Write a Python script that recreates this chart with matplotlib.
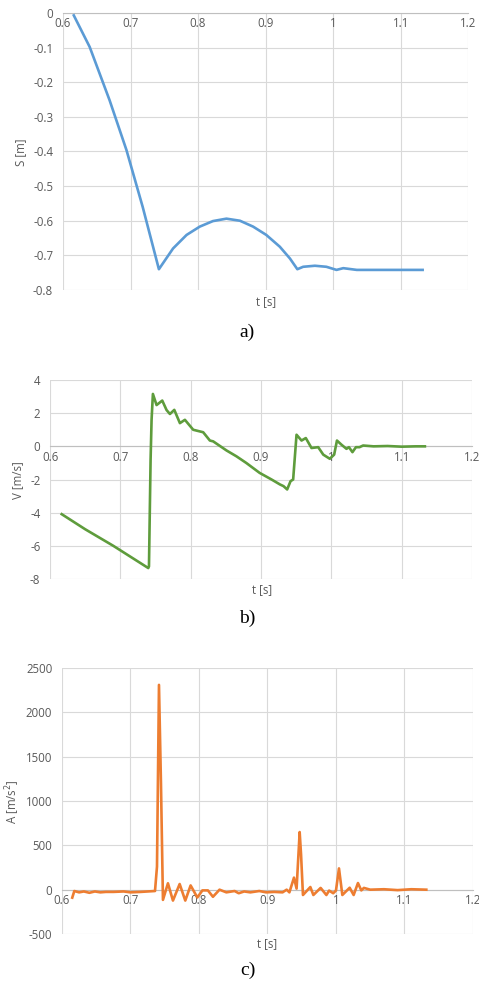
import matplotlib
matplotlib.use('Agg')
import matplotlib.pyplot as plt

# displacement S [m]
t_s = [0.616, 0.6395, 0.669, 0.694, 0.718, 0.742, 0.763, 0.783, 0.8025, 0.822,
       0.842, 0.862, 0.8815, 0.901, 0.921, 0.936, 0.947, 0.9556, 0.973, 0.990,
       1.005, 1.015, 1.035, 1.08, 1.1325]
s_vals = [-0.007, -0.098, -0.252, -0.396, -0.56, -0.740, -0.680, -0.641, -0.617, -0.601,
          -0.594, -0.600, -0.617, -0.641, -0.675, -0.709, -0.740, -0.733, -0.730, -0.733,
          -0.742, -0.737, -0.742, -0.742, -0.742]

# velocity V [m/s]
t_v = [0.6166, 0.65, 0.69, 0.7397, 0.7407, 0.743, 0.7444, 0.7463, 0.7515, 0.7596,
       0.7657, 0.7705, 0.7767, 0.7847, 0.7918, 0.8036, 0.8178, 0.8273, 0.832, 0.851,
       0.865, 0.879, 0.898, 0.915, 0.927, 0.932, 0.9372, 0.942, 0.9457, 0.9505,
       0.9576, 0.9637, 0.9718, 0.9813, 0.9885, 0.9978, 1.004, 1.008, 1.0144, 1.0215,
       1.025, 1.030, 1.035, 1.040, 1.0452, 1.06, 1.08, 1.10, 1.12, 1.133]
v_vals = [-4.09, -5.0, -6.0, -7.34, -7.24, -0.82, 1.59, 3.16, 2.49, 2.76,
          2.19, 1.95, 2.2, 1.4, 1.6, 1.0, 0.85, 0.35, 0.3, -0.25,
          -0.6, -1.0, -1.6, -2.0, -2.3, -2.4, -2.6, -2.1, -2.0, 0.7,
          0.35, 0.5, -0.1, -0.05, -0.5, -0.75, -0.5, 0.35, 0.1, -0.15,
          -0.05, -0.35, -0.05, -0.05, 0.05, 0.0, 0.02, -0.02, 0.0, 0.0]

# acceleration A [m/s^2]
t_a = [0.615, 0.618, 0.625, 0.632, 0.64, 0.648, 0.656, 0.664, 0.675, 0.69,
       0.70, 0.715, 0.7358, 0.7387, 0.7416, 0.7445, 0.7474, 0.7547, 0.762, 0.7718,
       0.78, 0.7878, 0.7976, 0.805, 0.813, 0.8204, 0.83, 0.84, 0.852, 0.858,
       0.866, 0.875, 0.888, 0.898, 0.91, 0.922, 0.928, 0.932, 0.9387, 0.9425,
       0.947, 0.949, 0.9518, 0.9626, 0.967, 0.9776, 0.986, 0.990, 0.996, 1.000,
       1.0044, 1.0093, 1.02, 1.0258, 1.0321, 1.037, 1.0408, 1.05, 1.07, 1.09,
       1.11, 1.1319]
a_vals = [-90, -15, -30, -20, -35, -20, -30, -25, -25, -20,
          -30, -25, -15, 260, 2310, 1200, -115, 72, -123, 64,
          -123, 48, -88, -8, -8, -80, 0, -30, -15, -40,
          -20, -30, -15, -30, -25, -30, 0, -30, 136, 12,
          650, 400, -60, 30, -60, 20, -60, -10, -40, -10,
          240, -60, 22, -60, 75, -8, 20, 0, 5, -5,
          5, 0]

GRID = '#d9d9d9'
TXT = '#595959'
plt.rcParams['font.family'] = ['Open Sans', 'DejaVu Sans']
plt.rcParams['axes.unicode_minus'] = False

fig = plt.figure(figsize=(4.79, 9.84), dpi=100)


def style(ax, xlim, ylim, yticks):
    ax.set_xlim(*xlim)
    ax.set_ylim(*ylim)
    ax.set_xticks([0.6, 0.7, 0.8, 0.9, 1.0, 1.1, 1.2])
    ax.set_xticklabels(['0.6', '0.7', '0.8', '0.9', '1', '1.1', '1.2'])
    ax.set_yticks(yticks)
    ax.grid(True, color=GRID, linewidth=0.8)
    ax.set_axisbelow(True)
    for side in ['top', 'right', 'left']:
        ax.spines[side].set_visible(False)
    ax.spines['bottom'].set_position(('data', 0))
    ax.spines['bottom'].set_color('#bfbfbf')
    ax.spines['bottom'].set_zorder(1)
    ax.tick_params(axis='both', length=0, labelsize=8.3, labelcolor=TXT)
    ax.tick_params(axis='y', pad=7)
    ax.tick_params(axis='x', pad=3)


# a) displacement
ax1 = fig.add_axes([0.1315, 0.7053, 0.846, 0.2815])
ax1.plot(t_s, s_vals, color='#5b9bd5', linewidth=1.9, zorder=3)
style(ax1, (0.6, 1.2), (-0.8, 0), [-0.8, -0.7, -0.6, -0.5, -0.4, -0.3, -0.2, -0.1, 0])
ax1.set_yticklabels(['-0.8', '-0.7', '-0.6', '-0.5', '-0.4', '-0.3', '-0.2', '-0.1', '0'])

# b) velocity
ax2 = fig.add_axes([0.1044, 0.4116, 0.881, 0.2022])
ax2.plot(t_v, v_vals, color='#5e9c3c', linewidth=1.9, zorder=3)
style(ax2, (0.6, 1.2), (-8, 4), [-8, -6, -4, -2, 0, 2, 4])

# c) acceleration
ax3 = fig.add_axes([0.1294, 0.0508, 0.858, 0.2703])
ax3.plot(t_a, a_vals, color='#ed7d31', linewidth=1.9, zorder=3)
style(ax3, (0.6, 1.2), (-500, 2500), [-500, 0, 500, 1000, 1500, 2000, 2500])

W, H = 479, 984


def ftext(x, y, s, **kw):
    fig.text(x / W, 1 - y / H, s, ha='center', va='center', **kw)


ftext(21, 152, 'S [m]', rotation=90, fontsize=8.3, color=TXT)
ftext(18, 480, 'V [m/s]', rotation=90, fontsize=8.3, color=TXT)
ftext(13, 802, 'A [m/s$^2$]', rotation=90, fontsize=8.3, color=TXT)
ftext(266, 302, 't [s]', fontsize=8.3, color=TXT)
ftext(262, 590, 't [s]', fontsize=8.3, color=TXT)
ftext(267, 944, 't [s]', fontsize=8.3, color=TXT)
ftext(247, 332, 'a)', fontsize=14, family='Liberation Serif')
ftext(247, 618, 'b)', fontsize=14, family='Liberation Serif')
ftext(248, 970, 'c)', fontsize=14, family='Liberation Serif')

fig.savefig('out.png', dpi=100)
